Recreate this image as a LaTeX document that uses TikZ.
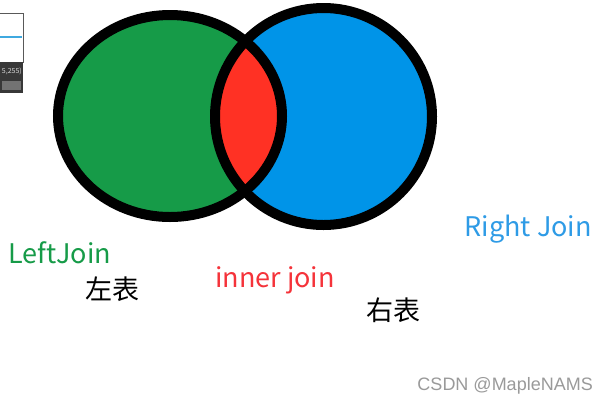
\documentclass[tikz,border=0pt]{standalone}
\usepackage{fontspec}
\setmainfont{Noto Sans CJK SC}
\newfontfamily\wmfont{Liberation Sans}
\definecolor{vgreen}{HTML}{169B48}
\definecolor{vblue}{HTML}{0094E8}
\definecolor{vred}{HTML}{FF3124}
\definecolor{rjblue}{HTML}{2E9BE6}
\definecolor{ijred}{HTML}{F5333A}
\definecolor{wmgray}{HTML}{9A9A9A}
\tikzset{
  ring/.style={line width=10bp, draw=black},
  lbl/.style={inner sep=0pt, font=\fontsize{27bp}{29bp}\selectfont},
}
\begin{document}
\begin{tikzpicture}[x=1bp,y=-1bp]
\useasboundingbox (0,0) rectangle (607,402);
\fill[white] (0,0) rectangle (607,402);
% screenshot fragment at top left
\draw[fill=white, draw=gray!70!black, line width=0.8bp] (-2,13) rectangle (23,62);
\draw[draw={rgb,255:red,63;green,169;blue,224}, line width=2bp] (0,37) -- (22,37);
\fill[black!78] (0,62) rectangle (23,93);
\node[anchor=east, text=white!85!black, inner sep=0pt, font=\fontsize{7bp}{8bp}\selectfont] (frag) at (22,71) {5,255)};
\fill[black!55] (2,81) rectangle (21,90);
% venn
\fill[vgreen] (170,116) ellipse [x radius=112, y radius=101];
\fill[vblue] (323.5,116.5) circle [radius=108.5];
\begin{scope}
  \clip (170,116) ellipse [x radius=112, y radius=101];
  \fill[vred] (323.5,116.5) circle [radius=108.5];
\end{scope}
\draw[ring] (170,116) ellipse [x radius=112, y radius=101];
\draw[ring] (323.5,116.5) circle [radius=108.5];
% labels
\node[lbl, text=vgreen, anchor=base west] (lj) at (8,263) {LeftJoin};
\node[lbl, text=black, anchor=base west] (lt) at (85,299) {左表};
\node[lbl, text=ijred, anchor=base west] (ij) at (215,287) {inner join};
\node[lbl, text=black, anchor=base west] (rt) at (366,320) {右表};
\node[lbl, text=rjblue, anchor=base east] (rj) at (592,236) {Right Join};
\node[anchor=base east, text=wmgray, inner sep=0pt, font=\wmfont\fontsize{18bp}{20bp}\selectfont] (wm) at (593,390) {CSDN @MapleNAMS};
\end{tikzpicture}
\end{document}
